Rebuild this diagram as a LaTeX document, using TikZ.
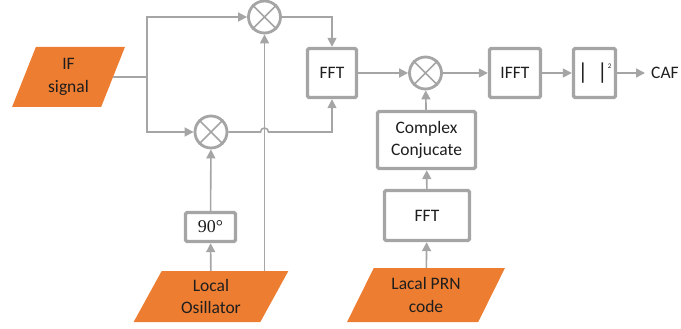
\documentclass[tikz,border=0pt]{standalone}
\usepackage{fontspec}
\setmainfont{Carlito}
\newfontfamily\degfont{Liberation Serif}
\usetikzlibrary{calc, arrows.meta, shapes.geometric}
\definecolor{flowgrey}{RGB}{165,165,165}
\definecolor{inorange}{RGB}{237,125,49}
\definecolor{txtdark}{RGB}{30,30,30}
\tikzset{
    procbox/.style={draw=flowgrey, line width=3.4pt, rounded corners=1.5pt, fill=white, text=txtdark, align=center, inner sep=0pt, font=\fontsize{17.5}{22.5}\selectfont},
    mixnode/.style={draw=flowgrey, circle, line width=2.8pt, minimum size=32pt, inner sep=0pt, fill=white},
    inshape/.style={trapezium, trapezium stretches=true, fill=inorange, text=txtdark, align=center, inner sep=0pt, font=\fontsize{17.5}{22.5}\selectfont},
    flowarrow/.style={-{Triangle[length=9pt,width=9pt]}, line width=1.6pt, draw=flowgrey},
    flowline/.style={line width=1.6pt, draw=flowgrey},
    note/.style={text=txtdark, font=\fontsize{17.5}{22.5}\selectfont}
}
\begin{document}
\begin{tikzpicture}[x=1pt,y=-1pt]
            \useasboundingbox (0,0) rectangle (681,329);
            % inputs
            \node[inshape, trapezium left angle=68, trapezium right angle=112, minimum width=113pt, minimum height=60pt] (ifsig) at (68.5,77) {IF\\signal};
            \node[inshape, trapezium left angle=64, trapezium right angle=116, minimum width=156pt, minimum height=51pt] (lo) at (211,296.5) {Local\\Osillator};
            \node[inshape, trapezium left angle=63, trapezium right angle=117, minimum width=158pt, minimum height=54pt] (prn) at (426,295) {Lacal PRN\\code};
            % mixers
            \node[mixnode] (mixU) at (264.5,17) {};
            \node[mixnode] (mixL) at (211,132) {};
            \node[mixnode] (mixR) at (425.5,73) {};
            \foreach \m in {mixU,mixL,mixR}
                \draw[flowline] (\m.north east) -- (\m.south west) (\m.north west) -- (\m.south east);
            % blocks
            \node[procbox, minimum width=49pt, minimum height=49pt] (fft1) at (332,73) {FFT};
            \node[procbox, minimum width=50pt, minimum height=29pt] (ph90) at (210.5,227) {\degfont\fontsize{18}{18}\selectfont 90°};
            \node[procbox, minimum width=51pt, minimum height=49pt] (ifft) at (515,73) {IFFT};
            \node[procbox, minimum width=42pt, minimum height=49pt] (absq) at (594.5,73) {\fontsize{23}{23}\selectfont|\hspace{9pt}|\raisebox{11pt}{\fontsize{7}{7}\selectfont 2}};
            \node[procbox, minimum width=98pt, minimum height=57pt] (cc) at (426.5,140) {Complex\\Conjucate};
            \node[procbox, minimum width=85pt, minimum height=50pt] (fft2) at (427,215.5) {FFT};
            \node[note, anchor=west, inner xsep=6pt, inner ysep=0pt] (caf) at (645,73) {CAF};
            \coordinate (split) at (147,77);
            % connections
            \draw[flowline] (ifsig) -- (split);
            \draw[flowarrow] (split) |- (mixU);
            \draw[flowarrow] (split) |- (mixL);
            \draw[flowarrow] (mixU) -| (fft1);
            \draw[flowarrow] (mixL.east) -- ($(mixU.south |- mixL.east)+(-4pt,0)$) arc[start angle=180, end angle=0, radius=4pt] -| (fft1.south);
            \draw[flowarrow] (mixU.south |- lo.north) -- (mixU);
            \draw[flowarrow] (lo) -- (ph90);
            \draw[flowarrow] (ph90) -- (mixL);
            \draw[flowarrow] (fft1) -- (mixR);
            \draw[flowarrow] (mixR) -- (ifft);
            \draw[flowarrow] (ifft) -- (absq);
            \draw[flowarrow] (absq) -- (caf);
            \draw[flowarrow] (prn) -- (fft2);
            \draw[flowarrow] (fft2) -- (cc);
            \draw[flowarrow] (cc) -- (mixR);
        \end{tikzpicture}
\end{document}
